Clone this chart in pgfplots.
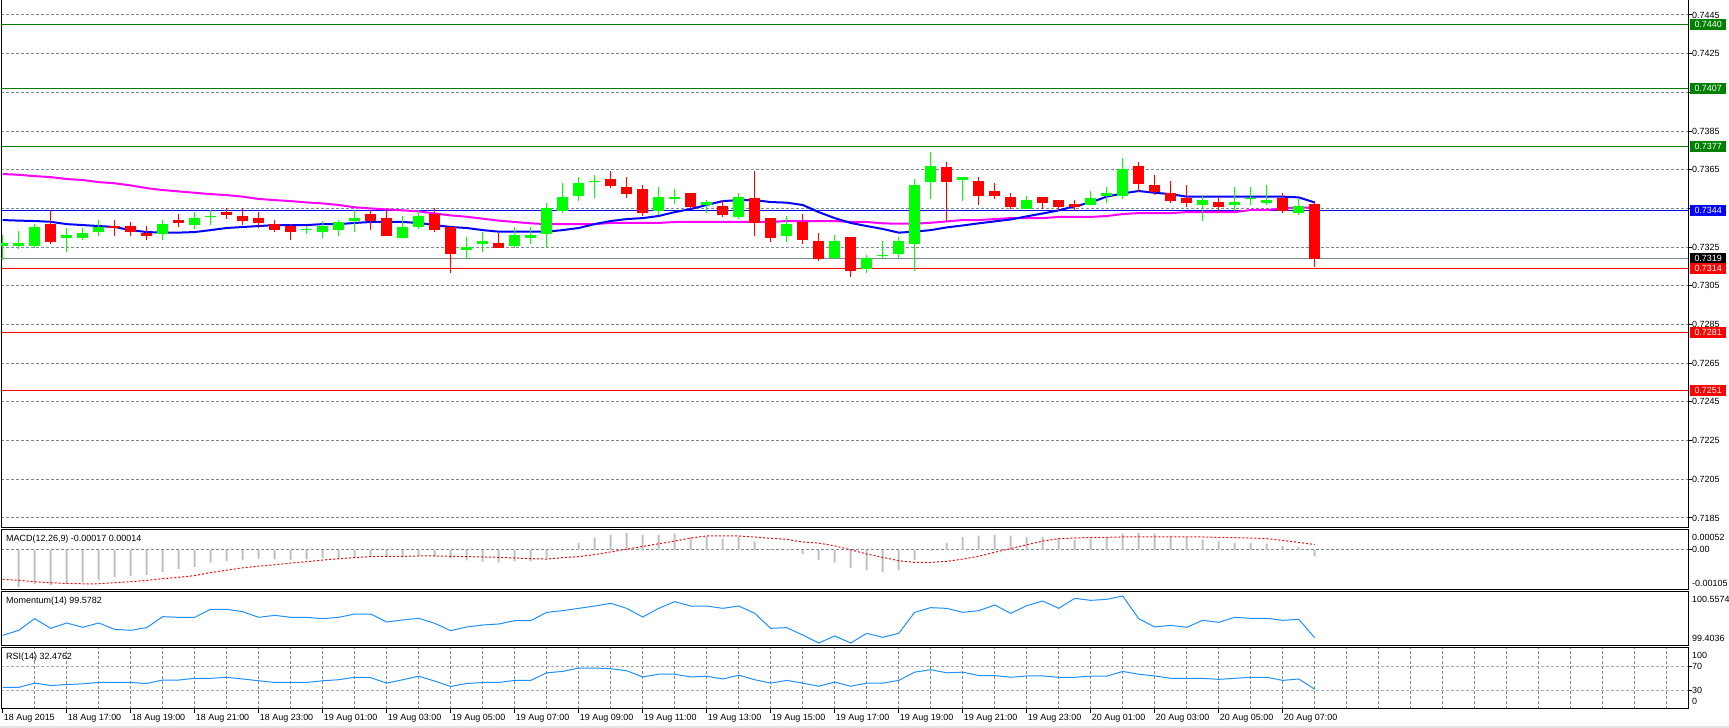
\documentclass[border=0pt]{standalone}
\usepackage{fontspec}
\setmainfont{Liberation Sans}
\usepackage{pgfplots}
\usepackage{pgfplotstable}
\pgfplotsset{compat=1.18}
\definecolor{cbull}{HTML}{00FF00}
\definecolor{cbear}{HTML}{FF0000}
\definecolor{clevg}{HTML}{008000}
\definecolor{gridc}{HTML}{778899}
\definecolor{macdh}{HTML}{C0C0C0}
\definecolor{dodger}{HTML}{1E90FF}
\definecolor{magma}{HTML}{FF00FF}
\definecolor{rsigrid}{HTML}{A9A9A9}

\pgfplotstableread{
i O H L C
0 0.73257 0.73313 0.73183 0.73271
1 0.73257 0.73333 0.73238 0.73271
2 0.73257 0.73369 0.73247 0.73354
4 0.73299 0.73350 0.73223 0.73313
5 0.73299 0.73350 0.73287 0.73323
6 0.73330 0.73388 0.73309 0.73354
10 0.73319 0.73390 0.73288 0.73369
12 0.73364 0.73431 0.73345 0.73400
13 0.73407 0.73440 0.73364 0.73412
19 0.73339 0.73361 0.73319 0.73344
20 0.73328 0.73387 0.73297 0.73359
21 0.73338 0.73392 0.73309 0.73381
22 0.73385 0.73442 0.73328 0.73400
25 0.73297 0.73411 0.73297 0.73354
26 0.73354 0.73442 0.73342 0.73411
29 0.73237 0.73300 0.73190 0.73250
30 0.73268 0.73326 0.73223 0.73281
32 0.73256 0.73354 0.73245 0.73313
33 0.73299 0.73354 0.73266 0.73313
34 0.73319 0.73476 0.73247 0.73452
35 0.73437 0.73581 0.73428 0.73509
36 0.73514 0.73612 0.73488 0.73581
37 0.73586 0.73621 0.73505 0.73592
41 0.73437 0.73561 0.73418 0.73509
42 0.73499 0.73550 0.73473 0.73509
44 0.73469 0.73493 0.73428 0.73483
46 0.73406 0.73530 0.73395 0.73509
49 0.73307 0.73411 0.73278 0.73369
52 0.73194 0.73313 0.73190 0.73281
54 0.73139 0.73207 0.73118 0.73194
55 0.73205 0.73281 0.73190 0.73210
56 0.73216 0.73302 0.73195 0.73281
57 0.73268 0.73602 0.73128 0.73571
58 0.73588 0.73742 0.73500 0.73669
60 0.73599 0.73612 0.73488 0.73612
64 0.73449 0.73514 0.73449 0.73493
68 0.73469 0.73540 0.73469 0.73504
69 0.73516 0.73561 0.73480 0.73530
70 0.73516 0.73710 0.73500 0.73654
75 0.73469 0.73519 0.73387 0.73493
77 0.73469 0.73561 0.73438 0.73483
78 0.73499 0.73561 0.73469 0.73505
79 0.73480 0.73571 0.73469 0.73493
81 0.73428 0.73504 0.73418 0.73462
}\bull

\pgfplotstableread{
i O H L C
3 0.73371 0.73440 0.73268 0.73278
7 0.73359 0.73390 0.73309 0.73349
8 0.73359 0.73380 0.73309 0.73328
9 0.73323 0.73359 0.73288 0.73309
11 0.73390 0.73419 0.73354 0.73376
14 0.73431 0.73450 0.73395 0.73416
15 0.73411 0.73450 0.73364 0.73385
16 0.73400 0.73431 0.73349 0.73375
17 0.73369 0.73390 0.73328 0.73338
18 0.73359 0.73369 0.73287 0.73328
23 0.73421 0.73442 0.73338 0.73387
24 0.73400 0.73442 0.73305 0.73307
27 0.73421 0.73450 0.73328 0.73338
28 0.73354 0.73356 0.73116 0.73216
31 0.73271 0.73323 0.73245 0.73247
38 0.73602 0.73643 0.73557 0.73566
39 0.73561 0.73612 0.73505 0.73526
40 0.73550 0.73571 0.73409 0.73428
43 0.73530 0.73532 0.73447 0.73457
45 0.73462 0.73493 0.73407 0.73416
47 0.73504 0.73643 0.73307 0.73376
48 0.73400 0.73402 0.73278 0.73297
50 0.73381 0.73421 0.73266 0.73287
51 0.73281 0.73323 0.73178 0.73188
53 0.73302 0.73304 0.73097 0.73128
59 0.73664 0.73690 0.73387 0.73588
61 0.73592 0.73612 0.73469 0.73516
62 0.73540 0.73581 0.73500 0.73516
63 0.73509 0.73530 0.73449 0.73459
65 0.73509 0.73511 0.73449 0.73480
66 0.73493 0.73495 0.73438 0.73459
67 0.73473 0.73493 0.73438 0.73459
71 0.73669 0.73690 0.73535 0.73578
72 0.73571 0.73623 0.73519 0.73536
73 0.73530 0.73592 0.73480 0.73488
74 0.73504 0.73571 0.73459 0.73480
76 0.73483 0.73509 0.73428 0.73459
80 0.73504 0.73530 0.73428 0.73438
82 0.73473 0.73483 0.73149 0.73190
}\bear

\pgfplotstableread{
i blue mag
0 0.73390 0.73628
1 0.73387 0.73624
2 0.73385 0.73617
3 0.73381 0.73612
4 0.73369 0.73602
5 0.73364 0.73597
6 0.73359 0.73586
7 0.73354 0.73580
8 0.73338 0.73569
9 0.73328 0.73555
10 0.73325 0.73545
11 0.73325 0.73538
12 0.73328 0.73531
13 0.73338 0.73524
14 0.73349 0.73519
15 0.73354 0.73511
16 0.73359 0.73499
17 0.73364 0.73493
18 0.73364 0.73488
19 0.73364 0.73481
20 0.73369 0.73476
21 0.73369 0.73468
22 0.73375 0.73456
23 0.73380 0.73450
24 0.73380 0.73445
25 0.73380 0.73440
26 0.73375 0.73435
27 0.73364 0.73424
28 0.73354 0.73414
29 0.73349 0.73407
30 0.73338 0.73397
31 0.73330 0.73387
32 0.73330 0.73380
33 0.73330 0.73373
34 0.73330 0.73369
35 0.73338 0.73369
36 0.73349 0.73369
37 0.73369 0.73369
38 0.73385 0.73375
39 0.73395 0.73375
40 0.73400 0.73375
41 0.73411 0.73375
42 0.73431 0.73380
43 0.73447 0.73380
44 0.73468 0.73380
45 0.73488 0.73380
46 0.73493 0.73380
47 0.73493 0.73380
48 0.73483 0.73380
49 0.73480 0.73385
50 0.73468 0.73385
51 0.73431 0.73385
52 0.73400 0.73385
53 0.73375 0.73380
54 0.73359 0.73380
55 0.73344 0.73373
56 0.73325 0.73371
57 0.73330 0.73371
58 0.73338 0.73376
59 0.73352 0.73383
60 0.73362 0.73390
61 0.73373 0.73390
62 0.73383 0.73395
63 0.73393 0.73400
64 0.73409 0.73400
65 0.73424 0.73400
66 0.73440 0.73406
67 0.73461 0.73406
68 0.73481 0.73406
69 0.73511 0.73411
70 0.73528 0.73421
71 0.73540 0.73426
72 0.73531 0.73426
73 0.73524 0.73426
74 0.73511 0.73431
75 0.73511 0.73431
76 0.73511 0.73431
77 0.73511 0.73431
78 0.73511 0.73442
79 0.73511 0.73442
80 0.73511 0.73450
81 0.73507 0.73454
82 0.73481 0.73454
}\mas

\pgfplotstableread{
i hist sig mom rsi
0 0 -0.000772 99.6315 35.6
1 -0.000976 -0.000798 99.7383 35.6
2 -0.000905 -0.000834 99.9876 42.4
3 -0.000922 -0.00086 99.781 38.5
4 -0.000887 -0.000878 99.895 40.1
5 -0.000843 -0.000887 99.8024 41.3
6 -0.000798 -0.000887 99.895 43.5
7 -0.00071 -0.00086 99.7597 43.5
8 -0.000683 -0.000834 99.7383 43.5
9 -0.000656 -0.000798 99.7953 41.8
10 -0.000577 -0.000754 100.0303 47.5
11 -0.000497 -0.000718 100.016 47.5
12 -0.000444 -0.000674 100.016 50.3
13 -0.000337 -0.000594 100.187 50.3
14 -0.000293 -0.000532 100.187 52.0
15 -0.000257 -0.00047 100.137 49.2
16 -0.000231 -0.000426 100.016 46.3
17 -0.000248 -0.00039 100.059 43.5
18 -0.000257 -0.000346 100.016 43.5
19 -0.000248 -0.00031 100.016 43.5
20 -0.000222 -0.000266 99.9876 46.3
21 -0.000213 -0.000231 100.016 48.0
22 -0.000204 -0.000204 100.087 52.0
23 -0.00016 -0.000177 100.087 51.4
24 -0.000195 -0.000169 99.9164 42.4
25 -0.000177 -0.000169 99.959 48.0
26 -0.000151 -0.00016 99.995 53.7
27 -0.000177 -0.00016 99.888 45.8
28 -0.000222 -0.000169 99.731 36.8
29 -0.000275 -0.000177 99.8096 41.8
30 -0.00031 -0.000186 99.852 43.5
31 -0.000337 -0.000195 99.8737 43.5
32 -0.000302 -0.000213 99.945 46.9
33 -0.000302 -0.000231 99.945 46.9
34 -0.000213 -0.00024 100.123 59.3
35 -0.00002 -0.000204 100.159 61.6
36 0.000186 -0.000177 100.208 67.2
37 0.000319 -0.000124 100.258 67.2
38 0.000399 -0.000053 100.315 66.1
39 0.000452 0.000018 100.208 62.7
40 0.000399 0.000089 100.023 52.5
41 0.000399 0.00016 100.208 57.0
42 0.000426 0.000231 100.351 57.0
43 0.000337 0.00031 100.258 52.5
44 0.000355 0.000364 100.258 53.7
45 0.000293 0.000364 100.208 49.2
46 0.000337 0.000364 100.258 55.4
47 0.000213 0.000337 100.102 48.0
48 0.00002 0.000302 99.781 42.4
49 0.00002 0.000275 99.7953 46.9
50 -0.000106 0.000204 99.6386 42.4
51 -0.000266 0.000177 99.4677 37.3
52 -0.000337 0.000106 99.6173 44.1
53 -0.000479 0 99.4677 37.3
54 -0.000532 -0.000106 99.6742 42.4
55 -0.000585 -0.000195 99.5888 42.4
56 -0.000532 -0.000284 99.6742 46.9
57 -0.000266 -0.000328 100.123 60.4
58 -0.00002 -0.000328 100.223 64.4
59 0.000186 -0.000302 100.208 59.3
60 0.000337 -0.00024 100.123 60.4
61 0.000372 -0.000169 100.159 54.8
62 0.000399 -0.000062 100.28 54.8
63 0.000372 0.000035 100.102 52.0
64 0.000337 0.000133 100.265 54.2
65 0.000337 0.000231 100.365 54.2
66 0.000302 0.000293 100.208 52.0
67 0.000266 0.00031 100.422 52.0
68 0.000302 0.000328 100.379 53.7
69 0.000328 0.000328 100.401 53.7
70 0.000426 0.000337 100.472 61.6
71 0.000452 0.000337 99.9876 57.0
72 0.000426 0.000337 99.8096 54.2
73 0.000372 0.000337 99.845 50.3
74 0.000337 0.000337 99.8024 50.3
75 0.000266 0.000337 99.952 50.3
76 0.000222 0.000328 99.9093 48.6
77 0.000186 0.00032 100.016 50.3
78 0.000186 0.00031 99.995 52.0
79 0.00016 0.000293 99.995 52.0
80 0.000106 0.000248 99.952 46.9
81 0.00008 0.000195 99.9734 49.2
82 -0.00017 0.00014 99.5782 32.4762
}\ind

\pgfplotsset{
  panel/.style={
    scale only axis, width=1687bp, xmin=-0.106, xmax=105.33,
    anchor=south west, clip mode=individual,
    scaled x ticks=false, scaled y ticks=false,
    axis line style={line width=1bp, black},
    xtick=\empty, minor xtick={2,4,...,104}, xminorgrids=true,
    minor grid style={gridc, line width=1bp, dash pattern=on 3bp off 2bp},
    minor tick length=0pt,
    ytick pos=right, xtick pos=bottom, tick align=outside, major tick length=4bp,
    tick style={black, line width=1bp},
    yticklabel style={font=\fontsize{9}{10}\selectfont, anchor=west, inner sep=0pt},
    /pgf/number format/assume math mode=true,
  },
  wick/.style={forget plot, draw=none, mark=none,
    error bars/.cd, y dir=plus, y explicit, error mark=none,
    error bar style={line width=1bp, solid, draw=#1}},
  body/.style={forget plot, draw=none, mark=none,
    error bars/.cd, y dir=plus, y explicit, error mark=none,
    error bar style={line width=11bp, solid, draw=#1}},
}
\tikzset{
  lbl/.style={font=\fontsize{9}{10}\selectfont, inner sep=0pt},
  lvbox/.style={font=\fontsize{9}{10}\selectfont, text=white, anchor=west, inner sep=0pt,
    minimum width=36bp, minimum height=10.5bp, xshift=2bp},
}

\begin{document}
\begin{tikzpicture}[x=1bp,y=1bp]
\path[use as bounding box] (0,0) rectangle (1729,728);
\fill[black!10] (0,0) rectangle (1729,2);

% ---------------- main price panel
\begin{axis}[panel, at={(1bp,200bp)}, height=528bp,
  ymin=0.717983, ymax=0.745275,
  ytick={0.7185,0.7205,0.7225,0.7245,0.7265,0.7285,0.7305,0.7325,0.7345,0.7365,0.7385,0.7405,0.7425,0.7445},
  yticklabels={0.7185,0.7205,0.7225,0.7245,0.7265,0.7285,0.7305,0.7325,,0.7365,0.7385,,0.7425,0.7445},
  ymajorgrids, major grid style={gridc, line width=1bp, dash pattern=on 3bp off 2bp},
]
\addplot[clevg, line width=1bp, forget plot] coordinates {(-1,0.7440) (107,0.7440)};
\addplot[clevg, line width=1bp, forget plot] coordinates {(-1,0.7407) (107,0.7407)};
\addplot[clevg, line width=1bp, forget plot] coordinates {(-1,0.7377) (107,0.7377)};
\addplot[blue, line width=1bp, forget plot] coordinates {(-1,0.7344) (107,0.7344)};
\addplot[gridc, line width=1bp, forget plot] coordinates {(-1,0.7319) (107,0.7319)};
\addplot[cbear, line width=1bp, forget plot] coordinates {(-1,0.7314) (107,0.7314)};
\addplot[cbear, line width=1bp, forget plot] coordinates {(-1,0.7281) (107,0.7281)};
\addplot[cbear, line width=1bp, forget plot] coordinates {(-1,0.7251) (107,0.7251)};
% moving averages
\addplot[magma, line width=2bp] table[x=i, y=mag] {\mas};
\addplot[blue, line width=2bp] table[x=i, y=blue] {\mas};
% candles: wicks
\addplot[wick=cbull] table[x=i, y=L, y error plus expr=\thisrow{H}-\thisrow{L}] {\bull};
\addplot[wick=cbear] table[x=i, y=L, y error plus expr=\thisrow{H}-\thisrow{L}] {\bear};
% candles: bodies
\addplot[body=cbull] table[x=i, y=O, y error plus expr=\thisrow{C}-\thisrow{O}] {\bull};
\addplot[body=cbear] table[x=i, y=C, y error plus expr=\thisrow{O}-\thisrow{C}] {\bear};
\coordinate (lv1) at (axis cs:105.33,0.7440);
\coordinate (lv2) at (axis cs:105.33,0.7407);
\coordinate (lv3) at (axis cs:105.33,0.7377);
\coordinate (lv4) at (axis cs:105.33,0.7344);
\coordinate (lv5) at (axis cs:105.33,0.7319);
\coordinate (lv6) at (axis cs:105.33,0.7314);
\coordinate (lv7) at (axis cs:105.33,0.7281);
\coordinate (lv8) at (axis cs:105.33,0.7251);
\end{axis}
\node[lvbox, fill=clevg] at (lv1) {0.7440};
\node[lvbox, fill=clevg] at (lv2) {0.7407};
\node[lvbox, fill=clevg] at (lv3) {0.7377};
\node[lvbox, fill=blue] at (lv4) {0.7344};
\node[lvbox, fill=black] at (lv5) {0.7319};
\node[lvbox, fill=cbear] at (lv6) {0.7314};
\node[lvbox, fill=cbear] at (lv7) {0.7281};
\node[lvbox, fill=cbear] at (lv8) {0.7251};

% ---------------- MACD panel
\begin{axis}[panel, at={(1bp,138bp)}, height=60bp,
  ymin=-0.00105, ymax=0.00052,
  ytick={0}, yticklabels={0.00},
  ymajorgrids, major grid style={gridc, line width=1bp, dash pattern=on 3bp off 2bp},
]
\addplot[ybar, bar width=2bp, bar shift=0pt, fill=macdh, draw=none] table[x=i, y=hist] {\ind};
\addplot[cbear, line width=1bp, dash pattern=on 2bp off 2bp] table[x=i, y=sig] {\ind};
\node[lbl, anchor=north west] at ([xshift=5bp,yshift=-5bp]rel axis cs:0,1) {MACD(12,26,9) -0.00017 0.00014};
\node[lbl, anchor=north west] at ([xshift=4bp,yshift=-4bp]rel axis cs:1,1) {0.00052};
\node[lbl, anchor=south west] at ([xshift=4bp,yshift=3bp]rel axis cs:1,0) {-0.00105};
\end{axis}

% ---------------- Momentum panel
\begin{axis}[panel, at={(1bp,82bp)}, height=54bp,
  ymin=99.4036, ymax=100.5574, ytick=\empty,
]
\addplot[dodger, line width=1bp] table[x=i, y=mom] {\ind};
\node[lbl, anchor=north west] at ([xshift=5bp,yshift=-5bp]rel axis cs:0,1) {Momentum(14) 99.5782};
\node[lbl, anchor=north west] at ([xshift=4bp,yshift=-4bp]rel axis cs:1,1) {100.5574};
\node[lbl, anchor=south west] at ([xshift=4bp,yshift=4bp]rel axis cs:1,0) {99.4036};
\end{axis}

% ---------------- RSI panel
\begin{axis}[panel, at={(1bp,19bp)}, height=61bp,
  ymin=0, ymax=100, ytick={30,70},
  ymajorgrids, major grid style={rsigrid, line width=1bp, dash pattern=on 3bp off 2bp},
  xtick={0,4,...,80},
  xticklabels={18 Aug 2015, 18 Aug 17:00, 18 Aug 19:00, 18 Aug 21:00, 18 Aug 23:00, 19 Aug 01:00, 19 Aug 03:00, 19 Aug 05:00, 19 Aug 07:00, 19 Aug 09:00, 19 Aug 11:00, 19 Aug 13:00, 19 Aug 15:00, 19 Aug 17:00, 19 Aug 19:00, 19 Aug 21:00, 19 Aug 23:00, 20 Aug 01:00, 20 Aug 03:00, 20 Aug 05:00, 20 Aug 07:00},
  xticklabel style={font=\fontsize{9}{10}\selectfont, anchor=north west, inner sep=0pt, xshift=1bp, yshift=-1bp},
]
\addplot[dodger, line width=1bp] table[x=i, y=rsi] {\ind};
\node[lbl, anchor=north west] at ([xshift=5bp,yshift=-5bp]rel axis cs:0,1) {RSI(14) 32.4762};
\node[lbl, anchor=north west] at ([xshift=4bp,yshift=-4bp]rel axis cs:1,1) {100};
\node[lbl, anchor=south west] at ([xshift=4bp,yshift=4bp]rel axis cs:1,0) {0};
\end{axis}
\end{tikzpicture}
\end{document}
